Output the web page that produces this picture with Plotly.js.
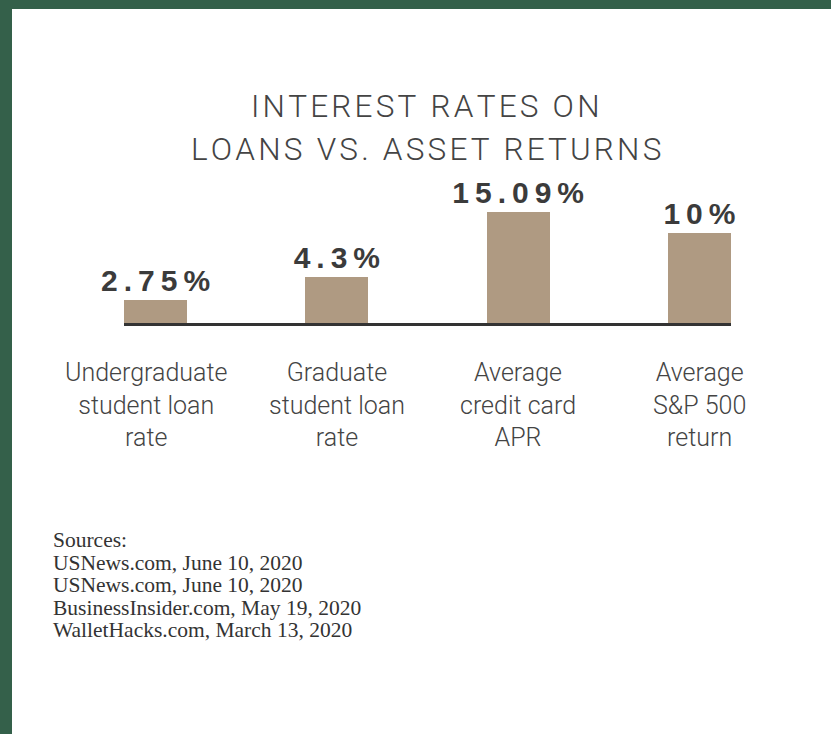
<!DOCTYPE html>
<html>
<head>
<meta charset="utf-8">
<script src="https://cdn.plot.ly/plotly-3.0.1.min.js"></script>
<style>
  html, body { margin: 0; padding: 0; background: #34604a; width: 831px; height: 734px; overflow: hidden; }
  #chart { position: absolute; left: 12px; top: 9px; width: 819px; height: 725px; background: #ffffff; }
</style>
</head>
<body>
<div id="chart"></div>
<script>
// ---- data ----
const categories = [
  "Undergraduate<br>student loan<br>rate",
  "Graduate<br>student loan<br>rate",
  "Average<br>credit card<br>APR",
  "Average<br>S&P 500<br>return"
];
const rates = [2.75, 4.3, 15.09, 10];
const titleLines = ["INTEREST RATES ON", "LOANS VS. ASSET RETURNS"];
const sourceLines = [
  "Sources:",
  "USNews.com, June 10, 2020",
  "USNews.com, June 10, 2020",
  "BusinessInsider.com, May 19, 2020",
  "WalletHacks.com, March 13, 2020"
];

// letter-spacing helper (narrow spaces between characters)
function spaced(s, sep) { return Array.from(s).join(sep); }
const THIN = "\u2009";
const HAIR = "\u200A";

const barLabels = rates.map(v => spaced(v + "%", THIN));

const trace = {
  type: "bar",
  x: categories,
  y: rates,
  width: 0.347,
  marker: { color: "#af9a82", line: { width: 0 } },
  text: barLabels,
  texttemplate: "%{text}",
  textposition: "outside",
  constraintext: "none",
  cliponaxis: false,
  textfont: { family: "Liberation Sans", size: 30, weight: 700, color: "#3b3b3b" },
  hoverinfo: "skip"
};

const annotations = [];
titleLines.forEach((t, i) => {
  annotations.push({
    xref: "paper", yref: "paper", x: 0.4975, y: 1, xanchor: "center", yanchor: "middle",
    yshift: (170 - 106) - i * 43,
    text: spaced(t, HAIR),
    showarrow: false,
    font: { family: "Roboto", size: 31.5, weight: 300, color: "#444444" }
  });
});
// category labels under the axis
categories.forEach((c, i) => {
  annotations.push({
    xref: "x", yref: "paper", x: c, y: 0, xanchor: "center", yanchor: "top",
    xshift: i === 0 ? -10 : 0,
    yshift: -33,
    text: c,
    showarrow: false,
    font: { family: "Roboto", size: 25, weight: 300, color: "#444444" }
  });
});
sourceLines.forEach((t, i) => {
  annotations.push({
    xref: "paper", yref: "paper", x: 0, y: 0, xanchor: "left", yanchor: "middle",
    xshift: -(124 - 51),
    yshift: -((547 - 7) - 323) - i * 22.5,
    text: t,
    showarrow: false,
    font: { family: "Liberation Serif", size: 21.5, color: "#333333" }
  });
});

const layout = {
  width: 819,
  height: 725,
  margin: { l: 112, r: 100, t: 161, b: 411, pad: 0 },
  paper_bgcolor: "#ffffff",
  plot_bgcolor: "#ffffff",
  showlegend: false,
  bargap: 0,
  xaxis: {
    type: "category",
    range: [-0.174, 3.174],
    showline: true,
    linewidth: 3,
    linecolor: "#333333",
    showgrid: false,
    zeroline: false,
    ticks: "",
    showticklabels: false,
    fixedrange: true
  },
  yaxis: {
    type: "log",
    range: [0.25, 1.525],
    visible: false,
    showgrid: false,
    zeroline: false,
    fixedrange: true
  },
  annotations: annotations
};

Plotly.newPlot("chart", [trace], layout, { displayModeBar: false, staticPlot: true });
</script>
</body>
</html>
